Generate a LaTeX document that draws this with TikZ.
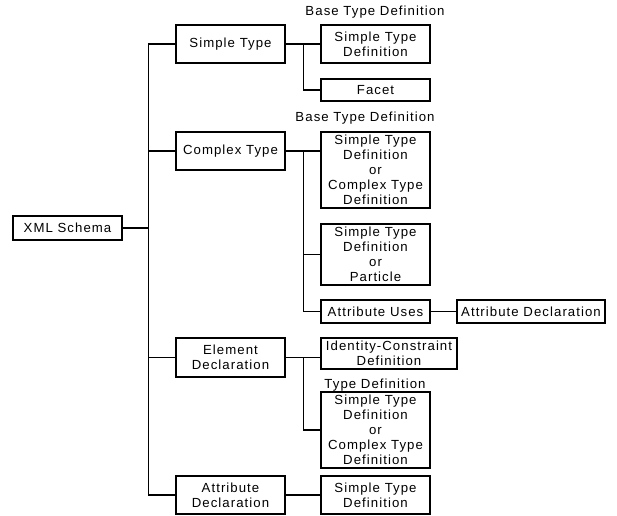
\documentclass[tikz,border=0pt]{standalone}
\usepackage{fontspec}
\setmainfont{Liberation Sans}[LetterSpace=8]

\begin{document}
\begin{tikzpicture}[x=1pt, y=-1pt, line width=1.2pt]
    \useasboundingbox (0, 0) rectangle (617, 515);
    \fontsize{13.2}{15}\selectfont

    \begin{scope}[every node/.style={draw=black, line width=1.1pt, align=center, inner sep=0pt, minimum width=109pt}]
        \node[minimum height=24pt] (R) at (67.5, 228) {XML Schema};

        \node[minimum height=38pt] (A_1) at (230.5, 44) {Simple Type};
        \node[minimum height=38pt] (A_2) at (230.5, 151) {Complex Type};
        \node[minimum height=39pt] (A_3) at (230.5, 357.5) {Element\\Declaration};
        \node[minimum height=38pt] (A_4) at (230.5, 495) {Attribute\\Declaration};

        \node[minimum height=38pt] (B_1) at (375.5, 44) {Simple Type\\Definition};
        \node[minimum height=22pt] (B_2) at (375.5, 90) {Facet};

        \node[minimum height=76pt] (C_1) at (375.5, 170) {Simple Type\\Definition\\or\\Complex Type\\Definition};
        \node[minimum height=61pt] (C_2) at (375.5, 254.5) {Simple Type\\Definition\\or\\Particle};
        \node[minimum height=23pt] (C_3) at (375.5, 311.5) {Attribute Uses};
        \node[minimum height=23pt, minimum width=148pt] (C_4) at (531, 311.5) {Attribute Declaration};

        \node[minimum height=31pt, minimum width=136pt] (D_1) at (389, 353.5) {Identity-Constraint\\Definition};
        \node[minimum height=76pt] (D_2) at (375.5, 430) {Simple Type\\Definition\\or\\Complex Type\\Definition};

        \node[minimum height=38pt] (E_1) at (375.5, 495) {Simple Type\\Definition};
    \end{scope}

    \begin{scope}
        \node (T_1) at (375, 12) {Base Type Definition};
        \node (T_2) at (365, 118) {Base Type Definition};
        \node (T_3) at (375, 385) {Type Definition};
    \end{scope}

    \begin{scope}
        \foreach \n in {A_1, A_2, A_3, A_4}
            \draw (R.east) -- ++(26, 0) |- (\n.west);

        \draw (A_1.east) -- (B_1.west);
        \draw (A_1.east) -- ++(18, 0) |- (B_2.west);

        \draw (A_2.east) -- (A_2.east -| C_1.west);
        \draw (A_2.east) -- ++(18, 0) |- (C_2.west);
        \draw (A_2.east) -- ++(18, 0) |- (C_3.west);
        \draw (C_3) -- (C_4);

        \draw (A_3.east) -- (A_3.east -| D_1.west);
        \draw (A_3.east) -- ++(18, 0) |- (D_2.west);

        \draw (A_4) -- (E_1);
    \end{scope}
\end{tikzpicture}
\end{document}
